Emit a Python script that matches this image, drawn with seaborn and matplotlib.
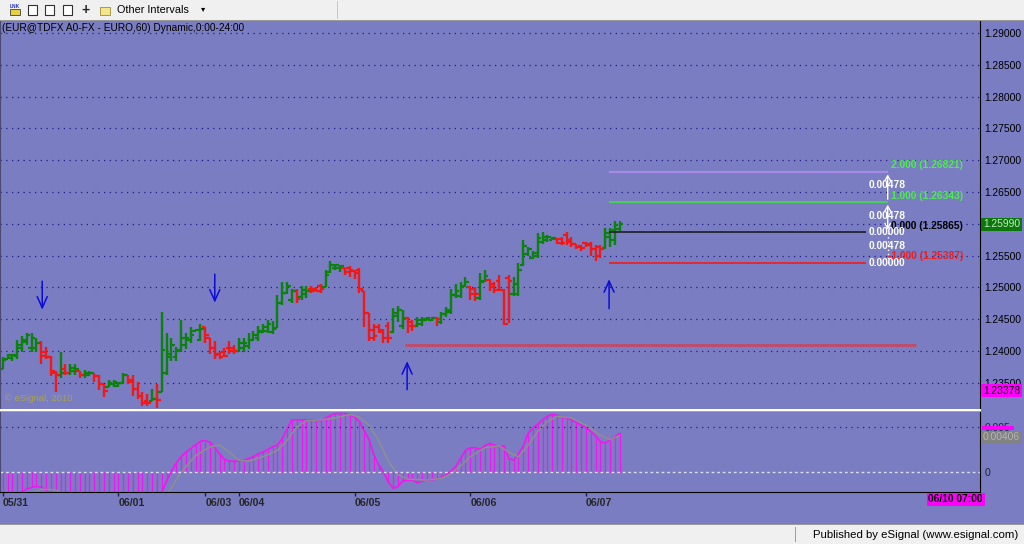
import matplotlib
matplotlib.use("Agg")
import matplotlib.pyplot as plt
import matplotlib.transforms as mtransforms
from matplotlib.patches import Rectangle
import numpy as np
import seaborn as sns

# hourly EUR/USD bars, 05/31 00:00 .. 06/07 08:00
opens = [1.2372, 1.2388, 1.2389, 1.2392, 1.2405, 1.2414, 1.2405, 1.2405, 1.2412, 1.2398,
         1.2390, 1.2366, 1.2362, 1.2372, 1.2366, 1.2368, 1.2368, 1.2362, 1.2363, 1.2365,
         1.2360, 1.2348, 1.2344, 1.2348, 1.2345, 1.2350, 1.2362, 1.2355, 1.2340, 1.2330,
         1.2322, 1.2322, 1.2325, 1.2335, 1.2366, 1.2390, 1.2390, 1.2402, 1.2410, 1.2418,
         1.2431, 1.2418, 1.2437, 1.2420, 1.2405, 1.2395, 1.2398, 1.2405, 1.2405, 1.2400,
         1.2405, 1.2408, 1.2418, 1.2420, 1.2430, 1.2432, 1.2430, 1.2436, 1.2476, 1.2492,
         1.2480, 1.2494, 1.2485, 1.2490, 1.2498, 1.2498, 1.2502, 1.2500, 1.2525, 1.2530,
         1.2530, 1.2530, 1.2530, 1.2526, 1.2528, 1.2495, 1.2460, 1.2433, 1.2437, 1.2430,
         1.2440, 1.2430, 1.2455, 1.2440, 1.2452, 1.2446, 1.2440, 1.2443, 1.2449, 1.2448,
         1.2452, 1.2445, 1.2458, 1.2462, 1.2488, 1.2486, 1.2502, 1.2500, 1.2498, 1.2484,
         1.2510, 1.2512, 1.2505, 1.2510, 1.2496, 1.2515, 1.2490, 1.2490, 1.2535, 1.2553,
         1.2547, 1.2549, 1.2572, 1.2575, 1.2575, 1.2576, 1.2576, 1.2582, 1.2575, 1.2568,
         1.2565, 1.2570, 1.2568, 1.2560, 1.2564, 1.2562, 1.2580, 1.2575, 1.2592]
highs = [1.2390, 1.2395, 1.2396, 1.2417, 1.2423, 1.2429, 1.2428, 1.2420, 1.2415, 1.2406,
         1.2392, 1.2368, 1.2398, 1.2380, 1.2379, 1.2379, 1.2368, 1.2370, 1.2368, 1.2365,
         1.2363, 1.2348, 1.2354, 1.2355, 1.2352, 1.2366, 1.2363, 1.2363, 1.2352, 1.2335,
         1.2332, 1.2340, 1.2348, 1.2461, 1.2429, 1.2421, 1.2406, 1.2448, 1.2428, 1.2438,
         1.2434, 1.2443, 1.2437, 1.2421, 1.2415, 1.2399, 1.2404, 1.2415, 1.2409, 1.2421,
         1.2420, 1.2428, 1.2431, 1.2439, 1.2443, 1.2448, 1.2447, 1.2488, 1.2509, 1.2509,
         1.2498, 1.2497, 1.2503, 1.2502, 1.2502, 1.2500, 1.2505, 1.2528, 1.2542, 1.2537,
         1.2536, 1.2531, 1.2533, 1.2528, 1.2531, 1.2495, 1.2459, 1.2443, 1.2442, 1.2434,
         1.2445, 1.2468, 1.2470, 1.2465, 1.2454, 1.2448, 1.2453, 1.2454, 1.2454, 1.2454,
         1.2453, 1.2462, 1.2469, 1.2497, 1.2506, 1.2509, 1.2517, 1.2503, 1.2500, 1.2522,
         1.2528, 1.2514, 1.2508, 1.2519, 1.2498, 1.2519, 1.2516, 1.2538, 1.2574, 1.2563,
         1.2558, 1.2585, 1.2587, 1.2583, 1.2580, 1.2577, 1.2580, 1.2587, 1.2579, 1.2569,
         1.2566, 1.2572, 1.2571, 1.2566, 1.2566, 1.2594, 1.2594, 1.2604, 1.2605]
lows = [1.2371, 1.2387, 1.2384, 1.2387, 1.2399, 1.2409, 1.2398, 1.2399, 1.2379, 1.2387,
        1.2360, 1.2336, 1.2358, 1.2362, 1.2363, 1.2363, 1.2357, 1.2358, 1.2360, 1.2352,
        1.2338, 1.2327, 1.2343, 1.2343, 1.2343, 1.2348, 1.2348, 1.2329, 1.2324, 1.2313,
        1.2313, 1.2321, 1.2311, 1.2335, 1.2363, 1.2384, 1.2384, 1.2399, 1.2403, 1.2413,
        1.2431, 1.2415, 1.2413, 1.2396, 1.2387, 1.2387, 1.2390, 1.2395, 1.2396, 1.2399,
        1.2399, 1.2403, 1.2415, 1.2415, 1.2428, 1.2428, 1.2426, 1.2436, 1.2473, 1.2490,
        1.2475, 1.2475, 1.2481, 1.2484, 1.2492, 1.2494, 1.2492, 1.2500, 1.2522, 1.2527,
        1.2525, 1.2519, 1.2517, 1.2513, 1.2492, 1.2438, 1.2415, 1.2415, 1.2429, 1.2412,
        1.2412, 1.2429, 1.2445, 1.2435, 1.2428, 1.2431, 1.2437, 1.2440, 1.2448, 1.2447,
        1.2440, 1.2442, 1.2454, 1.2458, 1.2484, 1.2483, 1.2500, 1.2481, 1.2478, 1.2481,
        1.2509, 1.2494, 1.2491, 1.2494, 1.2441, 1.2444, 1.2487, 1.2487, 1.2533, 1.2550,
        1.2544, 1.2546, 1.2569, 1.2571, 1.2574, 1.2568, 1.2566, 1.2566, 1.2563, 1.2560,
        1.2558, 1.2563, 1.2550, 1.2541, 1.2546, 1.2560, 1.2563, 1.2566, 1.2588]
closes = [1.2386, 1.2393, 1.2394, 1.2410, 1.2418, 1.2425, 1.2420, 1.2412, 1.2392, 1.2390,
          1.2368, 1.2362, 1.2366, 1.2366, 1.2374, 1.2372, 1.2362, 1.2366, 1.2366, 1.2360,
          1.2348, 1.2337, 1.2350, 1.2352, 1.2350, 1.2362, 1.2352, 1.2340, 1.2330, 1.2318,
          1.2318, 1.2325, 1.2323, 1.2401, 1.2395, 1.2410, 1.2400, 1.2420, 1.2420, 1.2425,
          1.2433, 1.2435, 1.2425, 1.2405, 1.2393, 1.2390, 1.2392, 1.2400, 1.2400, 1.2412,
          1.2412, 1.2418, 1.2425, 1.2432, 1.2438, 1.2442, 1.2434, 1.2476, 1.2492, 1.2502,
          1.2494, 1.2482, 1.2496, 1.2495, 1.2494, 1.2495, 1.2497, 1.2520, 1.2535, 1.2535,
          1.2533, 1.2525, 1.2527, 1.2522, 1.2497, 1.2460, 1.2420, 1.2423, 1.2433, 1.2420,
          1.2420, 1.2460, 1.2465, 1.2450, 1.2440, 1.2440, 1.2448, 1.2450, 1.2452, 1.2452,
          1.2451, 1.2458, 1.2464, 1.2488, 1.2495, 1.2500, 1.2508, 1.2490, 1.2490, 1.2508,
          1.2518, 1.2500, 1.2496, 1.2496, 1.2443, 1.2510, 1.2505, 1.2528, 1.2565, 1.2560,
          1.2554, 1.2578, 1.2580, 1.2580, 1.2578, 1.2570, 1.2570, 1.2572, 1.2568, 1.2563,
          1.2562, 1.2566, 1.2560, 1.2550, 1.2560, 1.2585, 1.2590, 1.2598, 1.2599]

# oscillator histogram (one value per bar) and its signal line
osc = [-0.0036, -0.0033, -0.0030, -0.0026, -0.0022, -0.0019, -0.0017, -0.0016, -0.0017, -0.0020,
       -0.0024, -0.0029, -0.0032, -0.0034, -0.0035, -0.0036, -0.0037, -0.0038, -0.0038, -0.0039,
       -0.0040, -0.0042, -0.0042, -0.0041, -0.0040, -0.0039, -0.0040, -0.0042, -0.0044, -0.0046,
       -0.0047, -0.0046, -0.0045, -0.0023, -0.0010, 0.0001, 0.0010, 0.0017, 0.0022, 0.0026,
       0.0030, 0.0034, 0.0035, 0.0033, 0.0027, 0.0020, 0.0014, 0.0012, 0.0012, 0.0012,
       0.0013, 0.0015, 0.0017, 0.0020, 0.0022, 0.0025, 0.0028, 0.0030, 0.0037, 0.0048,
       0.0058, 0.0058, 0.0058, 0.0058, 0.0058, 0.0058, 0.0057, 0.0060, 0.0063, 0.0065,
       0.0065, 0.0065, 0.0064, 0.0061, 0.0056, 0.0046, 0.0036, 0.0019, 0.0008, 0.0000,
       -0.0011, -0.0018, -0.0016, -0.0010, -0.0009, -0.0009, -0.0012, -0.0010, -0.0009, -0.00085,
       -0.0008, -0.0006, -0.0003, 0.0001, 0.0006, 0.0015, 0.0024, 0.0027, 0.0027, 0.0025,
       0.0029, 0.0032, 0.0030, 0.0028, 0.0029, 0.0015, 0.0013, 0.0020, 0.0029, 0.0043,
       0.0049, 0.0053, 0.0058, 0.0062, 0.0064, 0.0063, 0.0061, 0.0060, 0.0058, 0.0055,
       0.0052, 0.0049, 0.0045, 0.0040, 0.0034, 0.0032, 0.0036, 0.0039, 0.0043]
sig_idx = [0, 4, 8, 11, 14, 20, 30, 33, 35, 37, 40, 43, 45, 47, 49, 51, 54, 57, 59, 61,
           63, 66, 69, 72, 74, 76, 78, 80, 82, 84, 88, 91, 93, 95, 97, 100, 103, 105, 107,
           109, 111, 113, 115, 118, 121, 124, 126, 128]
sig_val = [-0.0040, -0.0028, -0.0019, -0.0020, -0.0030, -0.0035, -0.0040, -0.0032, -0.0018,
           0.0000, 0.0018, 0.0028, 0.0030, 0.0022, 0.0013, 0.0012, 0.0017, 0.0024, 0.0035,
           0.0050, 0.0057, 0.0058, 0.0060, 0.0064, 0.0061, 0.0052, 0.0035, 0.0012, -0.0003,
           -0.0008, -0.0009, -0.0007, -0.0002, 0.0007, 0.0017, 0.0027, 0.0029, 0.0022, 0.0017,
           0.0030, 0.0045, 0.0056, 0.0062, 0.0060, 0.0052, 0.0041, 0.0036, 0.00406]

date_idx = [0, 24, 42, 49, 73, 97, 121]
date_labels = ["05/31", "06/01", "06/03", "06/04", "06/05", "06/06", "06/07"]
price_ticks = [1.235, 1.240, 1.245, 1.250, 1.255, 1.260, 1.265, 1.270, 1.275, 1.280, 1.285, 1.290]

# fib projection drawn from the 06/07 swing
fib_names = ["2.000", "1.000", "0.000", "-1.000"]
fib_levels = [1.26821, 1.26343, 1.25865, 1.25387]
fib_colors = ["#b48cf0", "#3ce03c", "#1e1e28", "#f01c1c"]
fib_text_colors = ["#46f046", "#46f046", "#000000", "#f01c1c"]
fib_step = "0.00478"
support_level = 1.24094

# hand-drawn arrows: bar position, tail price, tip price
arrow_idx = [8.2, 44.0, 83.9, 125.8]
arrow_tail = [1.25141, 1.25252, 1.23349, 1.24623]
arrow_tip = [1.24607, 1.24717, 1.23884, 1.25173]

last_price = 1.25990
marker_price = 1.23378
last_osc_label = 0.00406

BG = "#7a7dc2"
GRID = "#1c1c86"
UP = "#0b820b"
DN = "#f21818"
MAG = "#f414f4"

sns.set_style("white")
plt.rcParams["font.family"] = ["Liberation Sans", "DejaVu Sans"]

fig = plt.figure(figsize=(10.24, 5.44), dpi=100, facecolor=BG)


def fx(px):
    return px / 1024


def fy(py):
    return 1 - py / 544


ax = fig.add_axes([0, fy(408), fx(980), (408 - 21) / 544], facecolor=BG)
ax2 = fig.add_axes([0, fy(492), fx(980), (492 - 412) / 544], facecolor=BG)

bar_x = np.arange(len(closes))
xlim = (-0.56, 202.75)

# price bars
o = np.array(opens)
c = np.array(closes)
cols = [UP if cc >= oo else DN for oo, cc in zip(o, c)]
ax.vlines(bar_x, lows, highs, colors=cols, lw=1.7)
ax.hlines(o, bar_x - 0.75, bar_x, colors=cols, lw=1.6)
ax.hlines(c, bar_x, bar_x + 0.75, colors=cols, lw=1.6)

ax.set_xlim(*xlim)
ax.set_ylim(1.23104, 1.29189)
ax.set_yticks(price_ticks)
ax.set_yticklabels([f"{v:.5f}" for v in price_ticks])
ax.yaxis.tick_right()
ax.tick_params(axis="y", length=0, pad=3, labelsize=7.4, labelcolor="black")
ax.set_xticks([])
ax.grid(True, axis="y", color=GRID, lw=0.9, linestyle=(0, (1, 3.6)))
for s in ["top", "bottom"]:
    ax.spines[s].set_visible(False)
ax.spines["right"].set_color("black")
ax.spines["left"].set_color("#4a4a70")

# support line and fib levels
ax.hlines(support_level, 83.5, 189.5, color="#c24a66", lw=2)
fib_start = [125.8, 125.8, 125.8, 125.8]
fib_end = [183.6, 183.6, 179.0, 179.0]
for lvl, x0, x1, col in zip(fib_levels, fib_start, fib_end, fib_colors):
    ax.hlines(lvl, x0, x1, color=col, lw=1.2)

up_off = mtransforms.offset_copy(ax.transData, fig=fig, x=0, y=6.5, units="dots")
for name, lvl, tc in zip(fib_names, fib_levels, fib_text_colors):
    ax.text(199.3, lvl, f"{name} ({lvl:.5f})", transform=up_off, color=tc,
            fontsize=7.4, fontweight="bold", ha="right", va="center")

# white projection arrows and step values
ax.annotate("", xy=(183.6, fib_levels[0]), xytext=(183.6, fib_levels[1]),
            arrowprops=dict(arrowstyle="->,head_length=0.35,head_width=0.2", color="white", lw=1))
ax.annotate("", xy=(183.6, fib_levels[1]), xytext=(183.6, fib_levels[2]),
            arrowprops=dict(arrowstyle="<->,head_length=0.35,head_width=0.2", color="white", lw=1))
ax.vlines(183.6, fib_levels[3], fib_levels[2], color="white", lw=1, linestyle=(0, (1, 2)))
mid_off = mtransforms.offset_copy(ax.transData, fig=fig, x=0, y=1.5, units="dots")
mids = [(fib_levels[i] + fib_levels[i + 1]) / 2 for i in range(3)]
for m in mids:
    ax.text(179.7, m, fib_step, transform=mid_off, color="white", fontsize=7.4,
            fontweight="bold", ha="left", va="center")
for lvl in fib_levels[2:]:
    ax.text(179.7, lvl, "0.00000", color="white", fontsize=7.4, fontweight="bold",
            ha="left", va="center")

# blue arrows
for ai, t0, t1 in zip(arrow_idx, arrow_tail, arrow_tip):
    ax.annotate("", xy=(ai, t1), xytext=(ai, t0),
                arrowprops=dict(arrowstyle="->,head_length=0.8,head_width=0.36",
                                color="#0c0cd8", lw=1.1))

ax.text(0.005, 0.012, "\u00a9 eSignal, 2010", transform=ax.transAxes, color="#a6a25a",
        fontsize=6.8, ha="left", va="bottom")

# lower oscillator panel
ax2.vlines(bar_x, 0, osc, colors=MAG, lw=0.9)
sns.lineplot(x=bar_x, y=osc, ax=ax2, color=MAG, lw=1.2)
sns.lineplot(x=sig_idx, y=sig_val, ax=ax2, color="#8f8f8f", lw=1.1)
ax2.axhline(0, color="#dcdcec", lw=1, linestyle=(0, (2, 2)))
ax2.axhline(0.005, color=GRID, lw=0.9, linestyle=(0, (1, 3.6)))
ax2.set_xlim(*xlim)
ax2.set_ylim(-0.00222, 0.00667)
ax2.set_yticks([0, 0.005])
ax2.set_yticklabels(["0", "0.005"])
ax2.yaxis.tick_right()
ax2.tick_params(axis="y", length=0, pad=3, labelsize=7.4)
ax2.set_xticks(date_idx)
ax2.set_xticklabels(date_labels, ha="left", fontsize=7.6, fontweight="bold")
ax2.tick_params(axis="x", length=3, width=1, pad=1.5, color="#202050", bottom=True)
ax2.set_xlabel("")
ax2.set_ylabel("")
ax2.spines["top"].set_visible(False)
ax2.spines["right"].set_color("black")
ax2.spines["bottom"].set_color("black")
ax2.spines["left"].set_color("#4a4a70")

# white separator between panels
fig.add_artist(Rectangle((0, fy(411)), fx(981), 2 / 544, transform=fig.transFigure,
                         facecolor="white", edgecolor="none"))
fig.add_artist(Rectangle((0, fy(412)), fx(981), 1 / 544, transform=fig.transFigure,
                         facecolor="#a0a0b8", edgecolor="none"))

# value boxes on the right scale
box = dict(boxstyle="square,pad=0.18", edgecolor="none")
ax.text(1.003, last_price, f"{last_price:.5f}", transform=ax.get_yaxis_transform(),
        fontsize=7.4, color="#c6e6c6", va="center", ha="left",
        bbox=dict(box, facecolor="#0c780c"))
ax.text(1.003, marker_price, f"{marker_price:.5f}", transform=ax.get_yaxis_transform(),
        fontsize=7.4, color="black", va="center", ha="left",
        bbox=dict(box, facecolor="#ff00ff"))
# histogram value marker, mostly hidden behind the signal value box
fig.add_artist(Rectangle((fx(982), fy(430)), 32 / 1024, 4 / 544, transform=fig.transFigure,
                         facecolor="#ff00ff", edgecolor="none", zorder=0.5))
low_off = mtransforms.offset_copy(ax2.get_yaxis_transform(), fig=fig, x=0, y=-2, units="dots")
ax2.text(1.003, last_osc_label, f"{last_osc_label:.5f}", transform=low_off,
         fontsize=7.4, color="#b4b4b4", va="center", ha="left",
         bbox=dict(box, facecolor="#828282"), zorder=5)
fig.text(fx(983), fy(499.5), "06/10 07:00", fontsize=7.4, fontweight="bold", color="black",
         ha="right", va="center", bbox=dict(box, facecolor="#ff00ff"))

# title
fig.text(fx(2), fy(28), "(EUR@TDFX A0-FX - EURO,60) Dynamic,0:00-24:00", fontsize=7.3,
         color="black", ha="left", va="center")

# toolbar
fig.add_artist(Rectangle((0, fy(20)), 1, 20 / 544, transform=fig.transFigure,
                         facecolor="#f0f0f0", edgecolor="none"))
fig.add_artist(Rectangle((0, fy(21)), 1, 1 / 544, transform=fig.transFigure,
                         facecolor="#9a9a9a", edgecolor="none"))
fig.add_artist(Rectangle((fx(337), fy(19)), 1 / 1024, 18 / 544, transform=fig.transFigure,
                         facecolor="#c8c8c8", edgecolor="none"))
fig.add_artist(Rectangle((fx(10), fy(15)), 10 / 1024, 6 / 544, transform=fig.transFigure,
                         facecolor="#e8d040", edgecolor="#404040", lw=0.6))
fig.text(fx(15), fy(6.5), "LNK", fontsize=3.5, color="#2030c0", ha="center", va="center",
         fontweight="bold")
for ix in [28, 45, 63]:
    fig.add_artist(Rectangle((fx(ix), fy(15)), 9 / 1024, 10 / 544, transform=fig.transFigure,
                             facecolor="white", edgecolor="#303030", lw=0.8))
fig.text(fx(86), fy(10), "+", fontsize=10, fontweight="bold", ha="center", va="center")
fig.add_artist(Rectangle((fx(100), fy(15)), 10 / 1024, 8 / 544, transform=fig.transFigure,
                         facecolor="#f4e48c", edgecolor="#a08c30", lw=0.6))
fig.text(fx(117), fy(10), "Other Intervals", fontsize=7.8, color="black", ha="left", va="center")
fig.text(fx(203), fy(10), "\u25be", fontsize=6, color="black", ha="center", va="center")

# status bar
fig.add_artist(Rectangle((0, 0), 1, 20 / 544, transform=fig.transFigure,
                         facecolor="#f0f0f0", edgecolor="none"))
fig.add_artist(Rectangle((0, fy(525)), 1, 1 / 544, transform=fig.transFigure,
                         facecolor="#9a9a9a", edgecolor="none"))
fig.add_artist(Rectangle((fx(795), fy(542)), 1 / 1024, 15 / 544, transform=fig.transFigure,
                         facecolor="#a0a0a0", edgecolor="none"))
fig.text(fx(1018), fy(535), "Published by eSignal (www.esignal.com)", fontsize=8.2,
         color="black", ha="right", va="center")

fig.savefig("out.png", dpi=100, facecolor=BG)
